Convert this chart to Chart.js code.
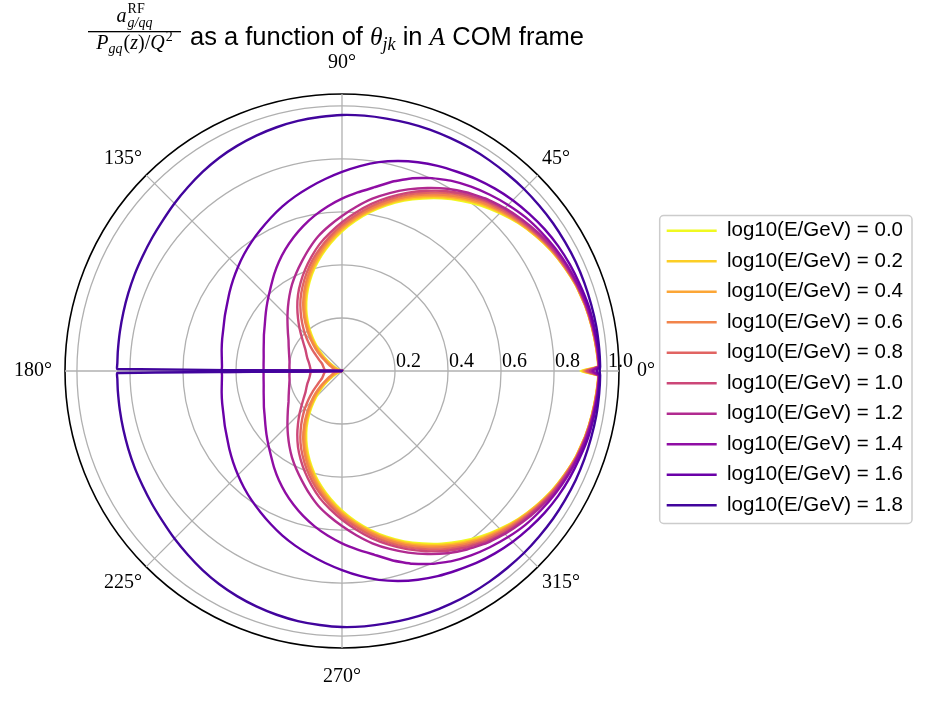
<!DOCTYPE html>
<html>
<head>
<meta charset="utf-8">
<script src="https://cdn.jsdelivr.net/npm/chart.js@4.4.0/dist/chart.umd.min.js"></script>
<style>
  html, body { margin: 0; padding: 0; background: #ffffff; }
  #wrap { position: relative; width: 928px; height: 703px; }
</style>
</head>
<body>
<div id="wrap"><canvas id="c" width="928" height="703"></canvas></div>
<script>
// ---------------- data ----------------
const energies = ['0.0', '0.2', '0.4', '0.6', '0.8', '1.0', '1.2', '1.4', '1.6', '1.8'];
const lineColors = ['#f0f921', '#fcce25', '#fca636', '#f2844b', '#e16462',
                    '#cc4778', '#b12a90', '#8f0da4', '#6a00a8', '#41049d'];

// sampled angles (degrees) of the upper half; the plot is mirror-symmetric about 0°
const angleSamples = [0, 1, 5, 10, 15, 20, 25, 30, 35, 40, 45, 50, 55, 60, 65, 70, 75, 80, 85, 90,
                      95, 100, 105, 110, 115, 120, 125, 130, 135, 140, 145, 150, 155, 160, 165, 170, 175, 178, 179.5, 180];

const r_E00 = [0.900, 0.965, 0.963, 0.957, 0.950, 0.940, 0.926, 0.910, 0.890, 0.868, 0.842, 0.815, 0.784, 0.752, 0.718, 0.684, 0.647, 0.608, 0.568, 0.527,
               0.485, 0.443, 0.401, 0.358, 0.314, 0.270, 0.225, 0.180, 0.138, 0.100, 0.067, 0.040, 0.023, 0.012, 0.007, 0.004, 0.002, 0.001, 0.001, 0];
const r_E02 = [0.905, 0.965, 0.963, 0.957, 0.950, 0.940, 0.926, 0.911, 0.891, 0.870, 0.845, 0.819, 0.789, 0.757, 0.723, 0.688, 0.651, 0.612, 0.573, 0.532,
               0.490, 0.448, 0.406, 0.363, 0.320, 0.276, 0.232, 0.187, 0.146, 0.108, 0.075, 0.047, 0.030, 0.017, 0.011, 0.008, 0.006, 0.005, 0.005, 0];
const r_E04 = [0.910, 0.966, 0.964, 0.958, 0.951, 0.941, 0.927, 0.912, 0.893, 0.872, 0.849, 0.824, 0.794, 0.762, 0.728, 0.693, 0.655, 0.616, 0.577, 0.537,
               0.496, 0.454, 0.412, 0.370, 0.327, 0.283, 0.239, 0.195, 0.154, 0.117, 0.085, 0.057, 0.040, 0.026, 0.019, 0.015, 0.013, 0.012, 0.012, 0];
const r_E06 = [0.915, 0.966, 0.964, 0.958, 0.951, 0.942, 0.928, 0.914, 0.895, 0.875, 0.853, 0.829, 0.800, 0.768, 0.734, 0.699, 0.661, 0.622, 0.583, 0.544,
               0.503, 0.462, 0.421, 0.379, 0.336, 0.293, 0.249, 0.205, 0.166, 0.130, 0.098, 0.070, 0.053, 0.040, 0.034, 0.030, 0.029, 0.028, 0.028, 0];
const r_E08 = [0.920, 0.967, 0.965, 0.959, 0.952, 0.943, 0.930, 0.916, 0.898, 0.879, 0.858, 0.836, 0.807, 0.776, 0.742, 0.707, 0.669, 0.630, 0.590, 0.551,
               0.511, 0.471, 0.432, 0.392, 0.352, 0.313, 0.272, 0.233, 0.197, 0.164, 0.135, 0.110, 0.093, 0.080, 0.074, 0.070, 0.066, 0.065, 0.065, 0];
const r_E10 = [0.925, 0.968, 0.966, 0.960, 0.953, 0.944, 0.931, 0.918, 0.901, 0.883, 0.864, 0.842, 0.814, 0.784, 0.750, 0.715, 0.678, 0.640, 0.600, 0.561,
               0.523, 0.486, 0.446, 0.407, 0.369, 0.332, 0.294, 0.258, 0.226, 0.198, 0.176, 0.159, 0.148, 0.139, 0.130, 0.124, 0.120, 0.119, 0.119, 0];
const r_E12 = [0.935, 0.969, 0.967, 0.961, 0.954, 0.945, 0.935, 0.923, 0.906, 0.888, 0.869, 0.848, 0.822, 0.794, 0.762, 0.729, 0.695, 0.660, 0.622, 0.585,
               0.550, 0.516, 0.478, 0.441, 0.408, 0.377, 0.346, 0.317, 0.291, 0.268, 0.249, 0.233, 0.222, 0.213, 0.206, 0.201, 0.199, 0.198, 0.198, 0];
const r_E14 = [0.945, 0.970, 0.968, 0.962, 0.957, 0.948, 0.939, 0.928, 0.916, 0.903, 0.886, 0.868, 0.849, 0.828, 0.803, 0.774, 0.740, 0.704, 0.676, 0.650,
               0.623, 0.595, 0.566, 0.536, 0.506, 0.476, 0.446, 0.417, 0.393, 0.372, 0.353, 0.337, 0.325, 0.314, 0.306, 0.300, 0.297, 0.296, 0.296, 0];
const r_E16 = [0.960, 0.972, 0.970, 0.966, 0.962, 0.955, 0.949, 0.942, 0.933, 0.922, 0.911, 0.898, 0.884, 0.868, 0.854, 0.838, 0.820, 0.800, 0.776, 0.751,
               0.727, 0.704, 0.682, 0.660, 0.637, 0.615, 0.595, 0.575, 0.555, 0.536, 0.518, 0.501, 0.488, 0.476, 0.468, 0.461, 0.455, 0.453, 0.453, 0];
const r_E18 = [0.972, 0.974, 0.974, 0.974, 0.973, 0.973, 0.973, 0.972, 0.972, 0.971, 0.971, 0.970, 0.970, 0.970, 0.969, 0.969, 0.968, 0.967, 0.967, 0.966,
               0.962, 0.958, 0.952, 0.945, 0.937, 0.928, 0.917, 0.905, 0.894, 0.883, 0.875, 0.868, 0.863, 0.858, 0.854, 0.851, 0.849, 0.848, 0.848, 0];

const seriesValues = [r_E00, r_E02, r_E04, r_E06, r_E08, r_E10, r_E12, r_E14, r_E16, r_E18];

const radialTicks = [0.2, 0.4, 0.6, 0.8, 1.0];
const rMax = 1.045;
const angleTickLabels = [0, 45, 90, 135, 180, 225, 270, 315];

// ---------------- build chart tables from the arrays ----------------
// one category per half degree; index i is drawn clockwise, so it carries theta = (720 - i) % 720 / 2
const STEPS = 720;
const thetaLabels = Array.from({ length: STEPS }, (_, i) => ((STEPS - i) % STEPS) / 2);
const idxOf = (theta) => (STEPS - Math.round(theta * 2)) % STEPS;

function buildSeries(values) {
  const arr = new Array(STEPS).fill(null);
  angleSamples.forEach((a, k) => {
    arr[idxOf(a)] = values[k];
    if (a !== 0 && a !== 180) arr[idxOf(360 - a)] = values[k];
  });
  return arr;
}

const datasets = energies.map((e, i) => ({
  label: 'log10(E/GeV) = ' + e,
  data: buildSeries(seriesValues[i]),
  borderColor: lineColors[i],
  backgroundColor: lineColors[i],
  borderWidth: 2.4,
  pointRadius: 0,
  pointHoverRadius: 0,
  fill: false,
  spanGaps: true,
  tension: 0.1,
  clip: false,
  order: energies.length - 1 - i
}));

// ---------------- plugins: r tick labels, title with fraction, legend frame ----------------
const serif = '"Liberation Serif", "DejaVu Serif", serif';
const sans = '"Liberation Sans", Arial, sans-serif';

const rTickLabelPlugin = {
  id: 'rTickLabels',
  afterDraw(chart) {
    const s = chart.scales.r, ctx = chart.ctx;
    ctx.save();
    ctx.font = '20px ' + serif;
    ctx.fillStyle = '#000';
    ctx.textAlign = 'left';
    ctx.textBaseline = 'alphabetic';
    radialTicks.forEach(v => {
      const d = s.getDistanceFromCenterForValue(v);
      ctx.fillText(v.toFixed(1), s.xCenter + d + 1, s.yCenter - 4);
    });
    ctx.restore();
  }
};

function runsWidth(ctx, runs) {
  let w = 0;
  runs.forEach(r => { ctx.font = r.font; w += ctx.measureText(r.t).width + (r.dx || 0); });
  return w;
}
function drawRuns(ctx, runs, x, y) {
  runs.forEach(r => {
    ctx.font = r.font;
    x += (r.dx || 0);
    ctx.fillText(r.t, x, y + (r.dy || 0));
    x += ctx.measureText(r.t).width;
  });
  return x;
}

const titlePlugin = {
  id: 'mathTitle',
  afterDraw(chart) {
    const ctx = chart.ctx;
    ctx.save();
    ctx.fillStyle = '#000';
    ctx.textBaseline = 'alphabetic';
    ctx.textAlign = 'left';
    const itB = 'italic 20px ' + serif, rmB = '20px ' + serif;
    const itS = 'italic 14px ' + serif, rmS = '14px ' + serif;
    const den = [
      { t: 'P', font: itB },
      { t: 'gq', font: itS, dy: 4, dx: 0 },
      { t: '(', font: rmB, dx: 1 },
      { t: 'z', font: itB },
      { t: ')/', font: rmB },
      { t: 'Q', font: itB },
      { t: '2', font: rmS, dy: -8, dx: 1 }
    ];
    const main = [
      { t: 'as a function of ', font: '25.5px ' + sans },
      { t: 'θ', font: 'italic 25.5px ' + serif },
      { t: 'jk', font: 'italic 18px ' + serif, dy: 5 },
      { t: ' in ', font: '25.5px ' + sans },
      { t: 'A', font: 'italic 25.5px ' + serif },
      { t: ' COM frame', font: '25.5px ' + sans }
    ];
    const fracX = 88, barY = 31;
    const dW = runsWidth(ctx, den);
    const fracW = Math.max(dW + 8, 93);
    // numerator: a with RF superscript and g/qq subscript stacked
    ctx.font = itB;
    const aW = ctx.measureText('a').width;
    ctx.font = itS;
    const subW = ctx.measureText('g/qq').width;
    const nW = aW + 1 + subW;
    const nx = fracX + (fracW - nW) / 2;
    drawRuns(ctx, [{ t: 'a', font: itB }], nx, 22);
    drawRuns(ctx, [{ t: 'RF', font: rmS }], nx + aW + 1, 13);
    drawRuns(ctx, [{ t: 'g/qq', font: itS }], nx + aW + 1, 27);
    // bar
    ctx.fillRect(fracX, barY, fracW, 1.3);
    // denominator
    drawRuns(ctx, den, fracX + (fracW - dW) / 2, 49);
    // main text
    drawRuns(ctx, main, 190, 45);
    ctx.restore();
  }
};

const legendFramePlugin = {
  id: 'legendFrame',
  afterDraw(chart) {
    const lg = chart.legend;
    if (!lg || !lg.legendHitBoxes || !lg.legendHitBoxes.length) return;
    const hb = lg.legendHitBoxes;
    let l = Infinity, r = -Infinity, t = Infinity, b = -Infinity;
    hb.forEach(h => { l = Math.min(l, h.left); r = Math.max(r, h.left + h.width); t = Math.min(t, h.top); b = Math.max(b, h.top + h.height); });
    const x0 = l - 7, y0 = t - 5, x1 = r + 9, y1 = b + 8, rad = 4;
    const ctx = chart.ctx;
    ctx.save();
    ctx.strokeStyle = '#cccccc';
    ctx.lineWidth = 1.5;
    ctx.beginPath();
    ctx.moveTo(x0 + rad, y0);
    ctx.arcTo(x1, y0, x1, y1, rad);
    ctx.arcTo(x1, y1, x0, y1, rad);
    ctx.arcTo(x0, y1, x0, y0, rad);
    ctx.arcTo(x0, y0, x1, y0, rad);
    ctx.closePath();
    ctx.stroke();
    ctx.restore();
  }
};

// ---------------- chart ----------------
const labelPad = { 0: 18, 45: 6, 90: 19, 135: 6, 180: 13, 225: 6, 270: 17, 315: 6 };

new Chart(document.getElementById('c'), {
  type: 'radar',
  data: { labels: thetaLabels, datasets },
  plugins: [rTickLabelPlugin, titlePlugin, legendFramePlugin],
  options: {
    responsive: false,
    animation: false,
    events: [],
    layout: { padding: { top: 33, right: 15, left: 0, bottom: 0 } },
    plugins: {
      title: { display: false },
      tooltip: { enabled: false },
      legend: {
        position: 'right',
        labels: {
          usePointStyle: true,
          pointStyle: 'line',
          pointStyleWidth: 50,
          boxWidth: 50,
          padding: 10,
          color: '#000',
          font: { family: 'Liberation Sans', size: 20.5 },
          sort: (a, b) => a.datasetIndex - b.datasetIndex
        }
      }
    },
    scales: {
      r: {
        min: 0,
        max: rMax,
        startAngle: 90,
        afterSetDimensions: (s) => {
          s.left = 0; s.top = 0; s.right = 928; s.bottom = 703;
          s.xCenter = 342; s.yCenter = 371; s.drawingArea = 277;
        },
        afterBuildTicks: (s) => {
          s.ticks = [0, ...radialTicks, rMax].map(v => ({ value: v }));
        },
        ticks: { display: false },
        grid: {
          circular: true,
          color: (c) => (c.tick && c.tick.value === rMax ? '#000000' : '#b0b0b0'),
          lineWidth: (c) => (c.tick && c.tick.value === rMax ? 1.6 : 1.3)
        },
        angleLines: {
          display: true,
          color: '#b0b0b0',
          lineWidth: (c) => (angleTickLabels.includes(thetaLabels[c.index]) ? 1.3 : 0)
        },
        pointLabels: {
          display: true,
          color: '#000',
          font: { family: 'Liberation Serif', size: 20 },
          padding: (c) => (labelPad[thetaLabels[c.index]] !== undefined ? labelPad[thetaLabels[c.index]] : 0),
          callback: (lab) => (angleTickLabels.includes(lab) ? lab + '°' : '')
        }
      }
    }
  }
});
</script>
</body>
</html>
